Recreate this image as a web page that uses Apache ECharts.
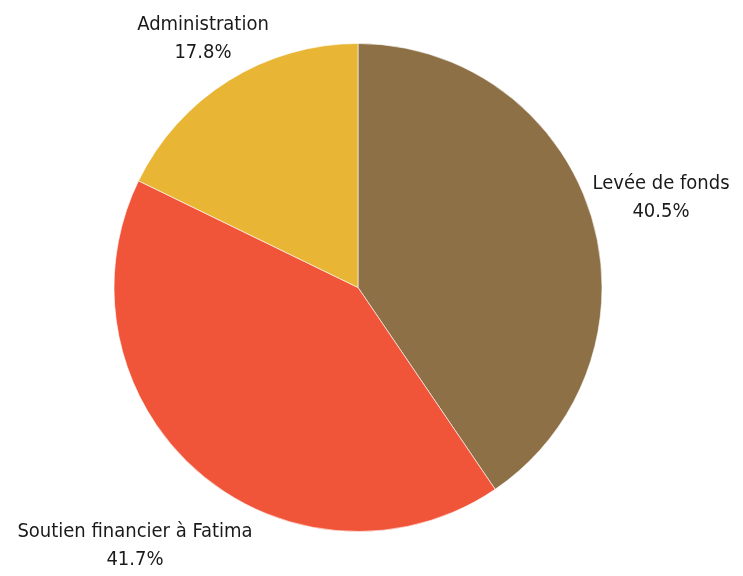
<!DOCTYPE html>
<html>
<head>
<meta charset="utf-8">
<script src="https://cdn.jsdelivr.net/npm/echarts@6/dist/echarts.min.js"></script>
<style>
  html, body { margin: 0; padding: 0; background: #fff; }
  #chart { width: 743px; height: 576px; }
</style>
</head>
<body>
<div id="chart"></div>
<script>
const categories = ['Levée de fonds', 'Soutien financier à Fatima', 'Administration'];
const shares = [40.5, 41.7, 17.8];
const colors = ['#8D7045', '#F15539', '#E8B634'];

// where the two-line label blocks sit (centre of each block)
const labelSpots = [[661, 198], [135, 546], [203, 39]];

const chart = echarts.init(document.getElementById('chart'));

const option = {
    animation: false,
    series: [
        {
            type: 'pie',
            center: [358, 287.5],
            radius: 244,
            startAngle: 90,
            clockwise: true,
            avoidLabelOverlap: false,
            data: categories.map((c, i) => ({
                name: c,
                value: shares[i],
                itemStyle: { color: colors[i] }
            })),
            itemStyle: {
                borderColor: '#ffffff',
                borderWidth: 0.6
            },
            label: {
                show: true,
                position: 'outside',
                formatter: p => p.name + '\n' + p.value.toFixed(1) + '%',
                fontFamily: '"DejaVu Sans Condensed", sans-serif',
                fontSize: 20,
                lineHeight: 28,
                color: '#1a1a1a',
                align: 'center'
            },
            labelLine: { show: false },
            labelLayout: params => ({
                x: labelSpots[params.dataIndex][0],
                y: labelSpots[params.dataIndex][1],
                align: 'center',
                verticalAlign: 'middle'
            }),
            emphasis: { disabled: true }
        }
    ]
};

chart.setOption(option);
</script>
</body>
</html>
